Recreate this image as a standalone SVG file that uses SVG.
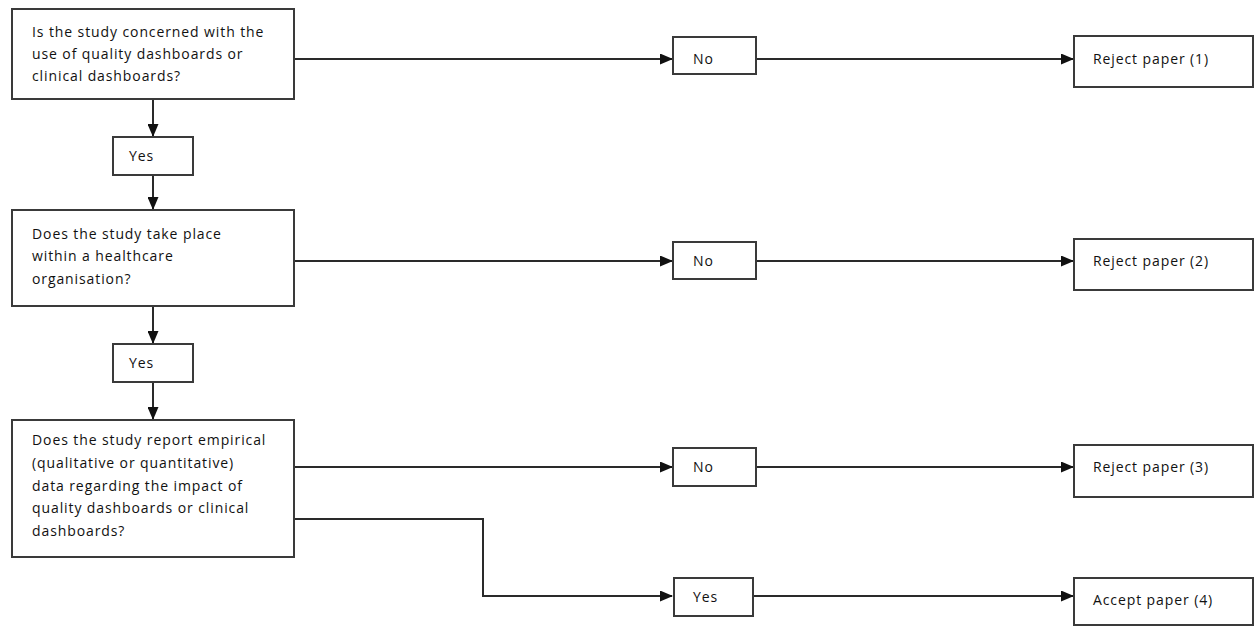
<svg xmlns="http://www.w3.org/2000/svg" width="1254" height="626" viewBox="0 0 1254 626">
<style>
.box{fill:#fff;stroke:#3a3a3a;stroke-width:2}
.t{font-family:"Open Sans","Liberation Sans",sans-serif;font-size:14px;letter-spacing:0.9px;fill:#111}
.c{fill:none;stroke:#2a2a2a;stroke-width:2}
</style>
<defs>
<marker id="ah" markerWidth="13" markerHeight="11" refX="12" refY="5.5" orient="auto" markerUnits="userSpaceOnUse">
<path d="M0,0 L13,5.5 L0,11 Z" fill="#111"/>
</marker>
</defs>
<rect width="1254" height="626" fill="#fff"/>
<g id="connectors">
<line class="c" x1="153" y1="99" x2="153" y2="136" marker-end="url(#ah)"/>
<line class="c" x1="153" y1="175" x2="153" y2="209" marker-end="url(#ah)"/>
<line class="c" x1="153" y1="306" x2="153" y2="343" marker-end="url(#ah)"/>
<line class="c" x1="153" y1="382" x2="153" y2="419" marker-end="url(#ah)"/>
<line class="c" x1="294" y1="59" x2="672" y2="59" marker-end="url(#ah)"/>
<line class="c" x1="756" y1="59" x2="1073" y2="59" marker-end="url(#ah)"/>
<line class="c" x1="294" y1="261" x2="672" y2="261" marker-end="url(#ah)"/>
<line class="c" x1="756" y1="261" x2="1073" y2="261" marker-end="url(#ah)"/>
<line class="c" x1="294" y1="467" x2="672" y2="467" marker-end="url(#ah)"/>
<line class="c" x1="756" y1="467" x2="1073" y2="467" marker-end="url(#ah)"/>
<polyline class="c" points="294,519 483,519 483,596 672,596" marker-end="url(#ah)"/>
<line class="c" x1="753" y1="596" x2="1073" y2="596" marker-end="url(#ah)"/>
</g>
<g id="q1">
<rect class="box" x="12" y="9" width="282" height="90"/>
<text class="t" x="32" y="37">Is the study concerned with the</text>
<text class="t" x="32" y="59">use of quality dashboards or</text>
<text class="t" x="32" y="81">clinical dashboards?</text>
</g>
<g id="yes1">
<rect class="box" x="113" y="137" width="80" height="38"/>
<text class="t" x="129" y="161">Yes</text>
</g>
<g id="q2">
<rect class="box" x="12" y="210" width="282" height="96"/>
<text class="t" x="32" y="239">Does the study take place</text>
<text class="t" x="32" y="261">within a healthcare</text>
<text class="t" x="32" y="284">organisation?</text>
</g>
<g id="yes2">
<rect class="box" x="113" y="344" width="80" height="38"/>
<text class="t" x="129" y="368">Yes</text>
</g>
<g id="q3">
<rect class="box" x="12" y="420" width="282" height="137"/>
<text class="t" x="32" y="445">Does the study report empirical</text>
<text class="t" x="32" y="468">(qualitative or quantitative)</text>
<text class="t" x="32" y="491">data regarding the impact of</text>
<text class="t" x="32" y="513">quality dashboards or clinical</text>
<text class="t" x="32" y="536">dashboards?</text>
</g>
<g id="no1">
<rect class="box" x="673" y="37" width="83" height="37"/>
<text class="t" x="693" y="64">No</text>
</g>
<g id="no2">
<rect class="box" x="673" y="242" width="83" height="37"/>
<text class="t" x="693" y="266">No</text>
</g>
<g id="no3">
<rect class="box" x="673" y="448" width="83" height="38"/>
<text class="t" x="693" y="472">No</text>
</g>
<g id="yes3">
<rect class="box" x="674" y="578" width="79" height="38"/>
<text class="t" x="693" y="602">Yes</text>
</g>
<g id="reject1">
<rect class="box" x="1074" y="36" width="179" height="51"/>
<text class="t" x="1093" y="64">Reject paper (1)</text>
</g>
<g id="reject2">
<rect class="box" x="1074" y="239" width="179" height="51"/>
<text class="t" x="1093" y="266">Reject paper (2)</text>
</g>
<g id="reject3">
<rect class="box" x="1074" y="445" width="179" height="52"/>
<text class="t" x="1093" y="472">Reject paper (3)</text>
</g>
<g id="accept">
<rect class="box" x="1074" y="578" width="179" height="47"/>
<text class="t" x="1093" y="605">Accept paper (4)</text>
</g>
</svg>
